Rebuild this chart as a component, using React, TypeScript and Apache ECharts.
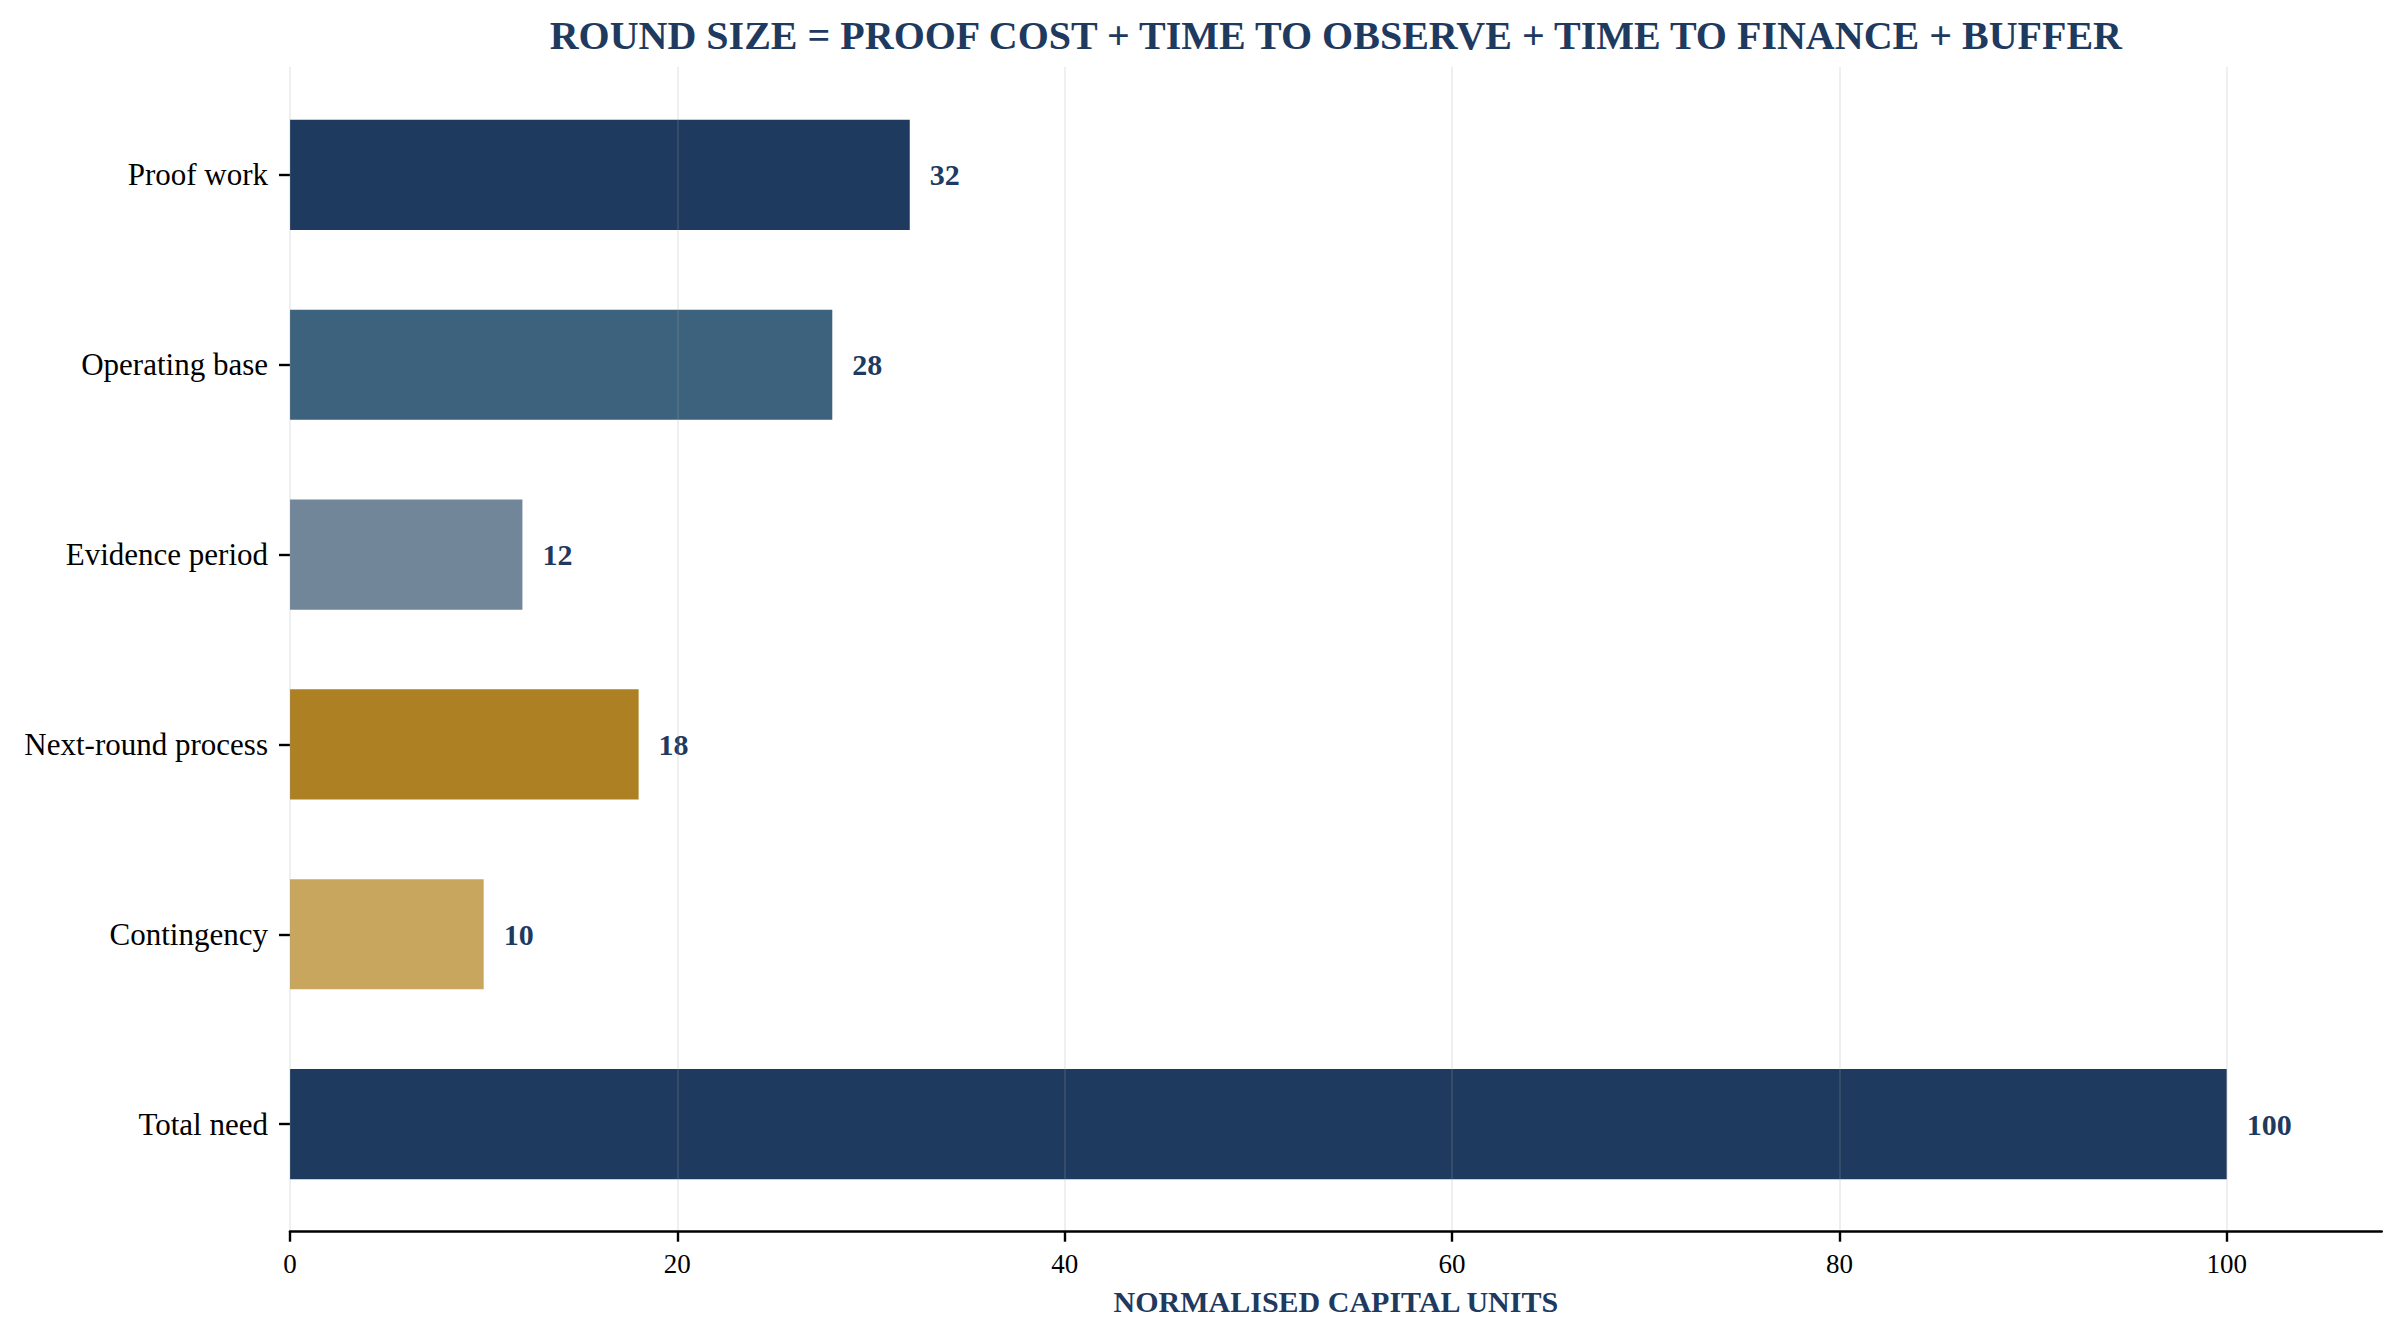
import React, { useEffect, useRef } from "react";
import * as echarts from "echarts";

const categories = [
  "Proof work",
  "Operating base",
  "Evidence period",
  "Next-round process",
  "Contingency",
  "Total need",
];
const values = [32, 28, 12, 18, 10, 100];
const barColors = ["#1f3a5f", "#3d627e", "#718699", "#ad8024", "#c8a65e", "#1f3a5f"];
const xTicks = [0, 20, 40, 60, 80, 100];
const titleText = "ROUND SIZE = PROOF COST + TIME TO OBSERVE + TIME TO FINANCE + BUFFER";
const xAxisTitle = "NORMALISED CAPITAL UNITS";

const W = 2403;
const H = 1340;
const SERIF = "'Liberation Serif', 'Times New Roman', Times, serif";
const NAVY = "#1f3a5f";

export default function App() {
  const ref = useRef<HTMLDivElement>(null);

  useEffect(() => {
    document.body.style.margin = "0";
    if (!ref.current) return;
    const chart = echarts.init(ref.current, undefined, { renderer: "svg" });
    const left = 290;
    const right = W - 2381.7;
    const option: any = {
      animation: false,
      backgroundColor: "#ffffff",
      textStyle: { fontFamily: SERIF },
      grid: [
        { left, right, top: 80, height: 1139, containLabel: false },
        { left, right, top: 67, height: 1164.7, containLabel: false },
      ],
      xAxis: [
        { type: "value", gridIndex: 0, min: 0, max: 108, show: false },
        {
          type: "value",
          gridIndex: 1,
          min: 0,
          max: 108,
          interval: 20,
          z: 3,
          axisLine: { show: true, lineStyle: { color: "#000000", width: 2.6 } },
          axisTick: {
            show: true,
            length: 10,
            customValues: xTicks,
            lineStyle: { color: "#000000", width: 2.4 },
          },
          axisLabel: {
            show: true,
            margin: 19,
            color: "#000000",
            fontFamily: SERIF,
            fontSize: 27,
            customValues: xTicks,
          },
          splitLine: {
            show: true,
            lineStyle: { color: "rgba(160,165,170,0.22)", width: 1.6 },
          },
        },
      ],
      yAxis: [
        {
          type: "category",
          gridIndex: 0,
          inverse: true,
          data: categories,
          axisLine: { show: false },
          axisTick: {
            show: true,
            alignWithLabel: true,
            length: 11,
            lineStyle: { color: "#000000", width: 2.4 },
          },
          axisLabel: {
            color: "#000000",
            fontFamily: SERIF,
            fontSize: 31,
            margin: 22,
          },
          splitLine: { show: false },
        },
        { type: "value", gridIndex: 1, show: false, min: 0, max: 1 },
      ],
      series: [
        {
          type: "bar",
          xAxisIndex: 0,
          yAxisIndex: 0,
          barWidth: "58%",
          z: 2,
          data: values.map((v, i) => ({ value: v, itemStyle: { color: barColors[i] } })),
          label: {
            show: true,
            position: "right",
            distance: 20,
            color: NAVY,
            fontFamily: SERIF,
            fontWeight: "bold",
            fontSize: 30,
          },
        },
      ],
      graphic: [
        {
          type: "text",
          x: (left + 2381.7) / 2,
          y: 35,
          style: {
            text: titleText,
            fill: NAVY,
            fontFamily: SERIF,
            fontWeight: "bold",
            fontSize: 40,
            textAlign: "center",
            textVerticalAlign: "middle",
          },
        },
        {
          type: "text",
          x: (left + 2381.7) / 2,
          y: 1301,
          style: {
            text: xAxisTitle,
            fill: NAVY,
            fontFamily: SERIF,
            fontWeight: "bold",
            fontSize: 30,
            textAlign: "center",
            textVerticalAlign: "middle",
          },
        },
      ],
    };
    chart.setOption(option);
    return () => chart.dispose();
  }, []);

  return (
    <div
      ref={ref}
      style={{ position: "fixed", left: 0, top: 0, width: W + "px", height: H + "px", background: "#fff" }}
    />
  );
}
